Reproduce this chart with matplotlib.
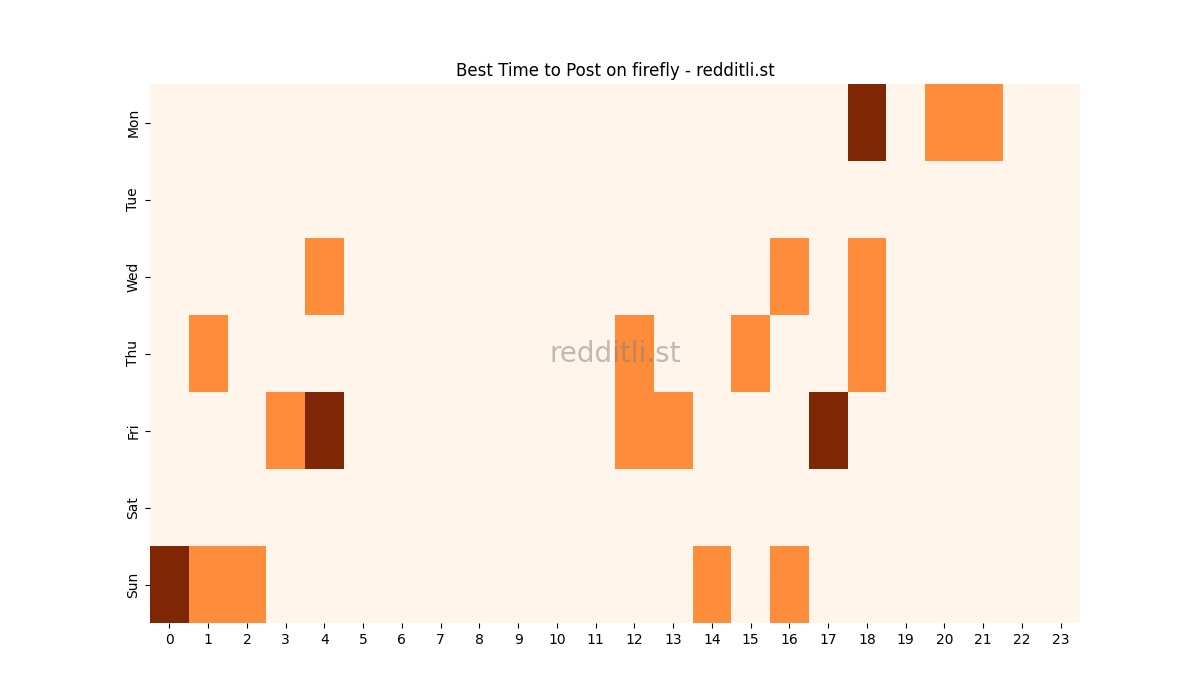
import matplotlib
matplotlib.use("Agg")
import matplotlib.pyplot as plt
import seaborn as sns
import numpy as np

days = ["Mon", "Tue", "Wed", "Thu", "Fri", "Sat", "Sun"]
hours = list(range(24))
mon = [0]*18 + [2, 0, 1, 1, 0, 0]
tue = [0]*24
wed = [0,0,0,0,1] + [0]*11 + [1,0,1] + [0]*5
thu = [0,1] + [0]*10 + [1,0,0,1,0,0,1] + [0]*5
fri = [0,0,0,1,2] + [0]*7 + [1,1,0,0,0,2] + [0]*6
sat = [0]*24
sun = [2,1,1] + [0]*11 + [1,0,1] + [0]*7

data = np.array([mon, tue, wed, thu, fri, sat, sun])

fig = plt.figure(figsize=(12, 7), dpi=100)
ax = fig.add_subplot(111)
sns.heatmap(data, cmap="Oranges", cbar=False, ax=ax, xticklabels=hours, yticklabels=days, vmin=0, vmax=2)
ax.set_title("Best Time to Post on firefly - redditli.st")
ax.text(0.5, 0.5, "redditli.st", transform=ax.transAxes, ha="center", va="center",
        fontsize=20, color="grey", alpha=0.5)
plt.setp(ax.get_yticklabels(), rotation=90, va="center")
plt.setp(ax.get_xticklabels(), rotation=0)
fig.savefig("out.png")
